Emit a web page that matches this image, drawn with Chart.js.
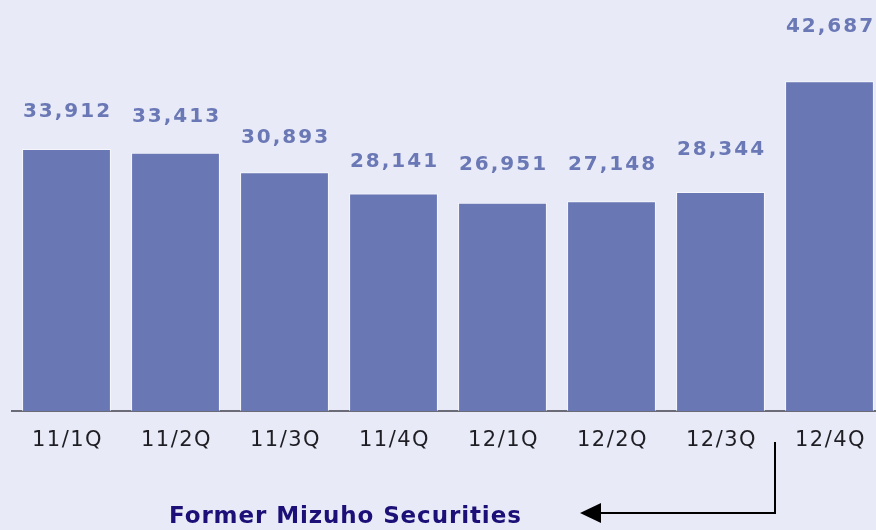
<!DOCTYPE html>
<html>
<head>
<meta charset="utf-8">
<script src="https://cdn.jsdelivr.net/npm/chart.js@4"></script>
<style>
  html, body { margin: 0; padding: 0; background: #e8ebf7; overflow: hidden; }
  #wrap { width: 884px; height: 530px; }
</style>
</head>
<body>
<div id="wrap"><canvas id="chart" width="884" height="530"></canvas></div>
<script>
// --------------------------------
// || Data
// --------------------------------

const quarters = ['11/1Q', '11/2Q', '11/3Q', '11/4Q', '12/1Q', '12/2Q', '12/3Q', '12/4Q'];
const amounts = [33912, 33413, 30893, 28141, 26951, 27148, 28344, 42687];
const noteText = 'Former Mizuho Securities';

// how far above each bar top the value label sits (px)
const labelLift = [37, 36, 35, 32, 38, 36, 42, 54];

const barColor = '#6a77b5';
const labelColor = '#6b78b6';

// --------------------------------
// || Plugins
// --------------------------------

const valueLabels = {
    id: 'valueLabels',
    afterDatasetsDraw(chart) {
        const ctx = chart.ctx;
        const meta = chart.getDatasetMeta(0);
        ctx.save();
        ctx.font = 'bold 20px "DejaVu Sans"';
        ctx.letterSpacing = '2px';
        ctx.fillStyle = labelColor;
        ctx.textAlign = 'center';
        ctx.textBaseline = 'middle';
        meta.data.forEach((bar, i) => {
            ctx.fillText(amounts[i].toLocaleString('en-US'), bar.x + 1, bar.y - labelLift[i]);
        });
        ctx.restore();
    }
};

const bottomStuff = {
    id: 'bottomStuff',
    afterDraw(chart) {
        const ctx = chart.ctx;
        const meta = chart.getDatasetMeta(0);
        const base = chart.chartArea.bottom;

        ctx.save();
        // category labels
        ctx.font = '21px "DejaVu Sans"';
        ctx.letterSpacing = '1.5px';
        ctx.fillStyle = '#1e1e24';
        ctx.textAlign = 'center';
        ctx.textBaseline = 'middle';
        meta.data.forEach((bar, i) => {
            ctx.fillText(quarters[i], bar.x + 1, base + 30);
        });

        // bracket + arrow from the last quarter back
        const sepX = (meta.data[6].x + meta.data[7].x) / 2;
        ctx.strokeStyle = '#000';
        ctx.lineWidth = 2;
        ctx.beginPath();
        ctx.moveTo(sepX, base + 31);
        ctx.lineTo(sepX, base + 102);
        ctx.lineTo(598, base + 102);
        ctx.stroke();

        ctx.fillStyle = '#000';
        ctx.beginPath();
        ctx.moveTo(580, base + 102);
        ctx.lineTo(601, base + 92);
        ctx.lineTo(601, base + 112);
        ctx.closePath();
        ctx.fill();

        // note
        ctx.letterSpacing = '0.9px';
        ctx.font = 'bold 23px "DejaVu Sans"';
        ctx.fillStyle = '#1c1078';
        ctx.textAlign = 'left';
        ctx.fillText(noteText, 169, base + 106);
        ctx.restore();
    }
};

// --------------------------------
// || Chart
// --------------------------------

const canvas = document.getElementById('chart');

const barChart = new Chart(canvas, {
    type: 'bar',
    data: {
        labels: quarters,
        datasets: [{
            data: amounts,
            backgroundColor: barColor,
            borderColor: 'rgba(255, 255, 255, 0.6)',
            borderWidth: 1,
            barPercentage: 0.815,
            categoryPercentage: 1
        }]
    },
    options: {
        responsive: false,
        animation: false,
        layout: {
            padding: { left: 12, right: 0, top: 0, bottom: 111 }
        },
        plugins: {
            legend: { display: false },
            tooltip: { enabled: false }
        },
        scales: {
            x: {
                grid: { display: false },
                ticks: { display: false },
                border: { display: true, color: '#6b6b78', width: 2 }
            },
            y: {
                display: false,
                min: 0,
                max: 53200
            }
        }
    },
    plugins: [valueLabels, bottomStuff]
});
</script>
</body>
</html>
